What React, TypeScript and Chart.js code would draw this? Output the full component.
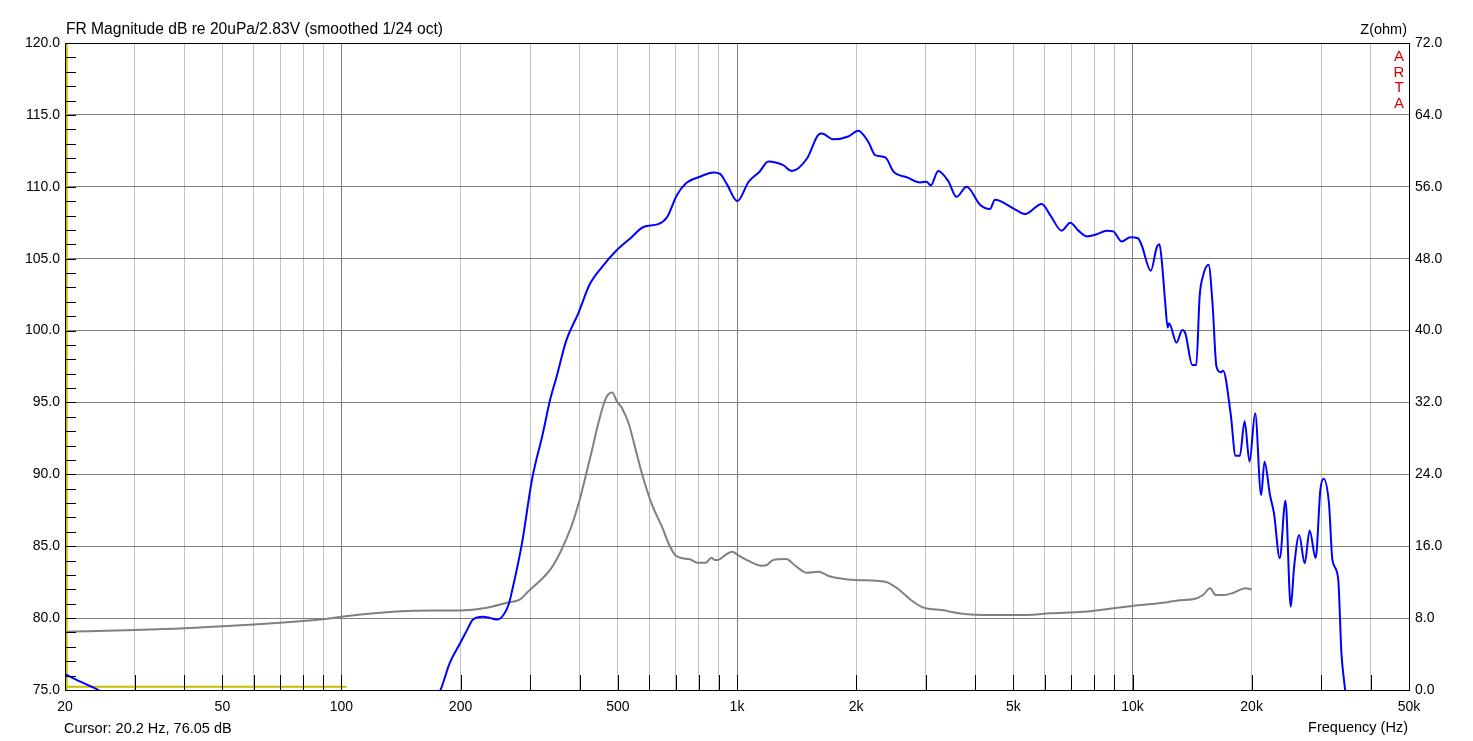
import { useEffect, useRef } from "react";
import Chart from "chart.js/auto";

const FONT = '"Liberation Sans", Arial, sans-serif';

// grid / tick positions on the frequency axis
const freqGrid = [
  20, 30, 40, 50, 60, 70, 80, 90, 100, 200, 300, 400, 500, 600, 700, 800, 900,
  1000, 2000, 3000, 4000, 5000, 6000, 7000, 8000, 9000, 10000, 20000, 30000,
  40000, 50000,
];
const freqLabelled = [20, 50, 100, 200, 500, 1000, 2000, 5000, 10000, 20000, 50000];
const freqLabelText = ["20", "50", "100", "200", "500", "1k", "2k", "5k", "10k", "20k", "50k"];
const decades = [100, 1000, 10000];

// FR magnitude, [Hz, dB]
const splCurve: [number, number | null][] = [
  [20, 76.1], [21.8, 75.6], [24.1, 75.05], [26, 74.5], [60, null],
  [170, 74.0], [178, 75.0], [188, 76.9], [200, 78.3], [208, 79.2], [215, 79.9],
  [228, 80.1], [238, 80.0], [248, 79.9], [258, 80.3], [265, 81.0], [270, 81.9],
  [286, 85.2], [303, 89.6], [323, 92.85], [337, 95.2], [350, 96.8], [370, 99.3],
  [397, 101.2], [424, 103.2], [455, 104.4], [497, 105.6], [537, 106.4],
  [580, 107.2], [632, 107.4], [666, 107.9], [704, 109.4], [740, 110.2],
  [806, 110.7], [872, 111.0], [906, 110.9], [942, 110.2], [1002, 109.0],
  [1070, 110.35], [1140, 111.05], [1200, 111.75], [1308, 111.5], [1376, 111.1],
  [1506, 112.0], [1610, 113.65], [1640, 113.7], [1752, 113.3], [1912, 113.5],
  [2026, 113.9], [2150, 113.1], [2236, 112.2], [2372, 112.05], [2488, 111.05],
  [2692, 110.65], [2906, 110.3], [3014, 110.35], [3090, 110.1], [3226, 111.1],
  [3420, 110.4], [3590, 109.3], [3806, 110.0], [4116, 108.75], [4360, 108.45],
  [4490, 109.1], [4994, 108.5], [5350, 108.1], [5894, 108.8], [6188, 108.05],
  [6620, 106.95], [6960, 107.5], [7300, 106.95], [7660, 106.55], [8120, 106.7],
  [8600, 106.95], [8940, 106.9], [9380, 106.2], [9880, 106.49], [10320, 106.42],
  [10540, 105.95], [11120, 104.16], [11520, 105.8], [11700, 106.0],
  [11860, 104.8], [12100, 101.88], [12270, 100.21], [12370, 100.5],
  [12920, 99.16], [13360, 100.04], [13600, 99.8], [14160, 97.6], [14490, 97.6],
  [14780, 102.37], [15060, 103.76], [15570, 104.58], [15930, 101.88],
  [16300, 97.5], [16720, 97.1], [16940, 97.2], [17700, 94.24], [18220, 91.3],
  [18680, 91.3], [19200, 93.7], [19760, 90.88], [20420, 94.24], [21140, 88.56],
  [21560, 90.88], [22260, 88.56], [22780, 87.3], [23560, 84.17], [24360, 88.17],
  [25120, 80.8], [25620, 83.58], [26380, 85.78], [27240, 83.81], [28040, 86.1],
  [29040, 84.17], [29840, 88.9], [30420, 89.7], [31380, 87.97], [32020, 84.03],
  [33100, 82.77], [33740, 77.55], [34400, 75.23], [36000, 70.0],
];

// impedance, [Hz, ohm]
const impedanceCurve: [number, number][] = [
  [20, 6.49], [30, 6.68], [40, 6.87], [50, 7.1], [60, 7.3], [70, 7.49],
  [80, 7.68], [90, 7.87], [100, 8.16], [125, 8.6], [152, 8.83], [200, 8.86],
  [233, 9.16], [262, 9.72], [283, 10.09], [297, 11.0], [319, 12.24],
  [339, 13.54], [358, 15.39], [381, 18.17], [400, 21.14], [416, 24.11],
  [429, 26.52], [446, 29.68], [466, 32.46], [484, 33.1], [496, 32.19],
  [512, 31.35], [532, 29.68], [556, 26.52], [578, 23.74], [610, 20.59],
  [646, 18.17], [674, 16.14], [702, 14.91], [760, 14.54], [794, 14.17],
  [834, 14.17], [862, 14.72], [878, 14.47], [894, 14.47], [934, 15.02],
  [974, 15.39], [1005, 15.02], [1066, 14.39], [1154, 13.83], [1190, 13.91],
  [1234, 14.47], [1332, 14.58], [1404, 13.83], [1498, 13.05], [1608, 13.16],
  [1704, 12.69], [1988, 12.24], [2368, 12.05], [2540, 11.32], [2752, 10.02],
  [2950, 9.2], [3370, 8.85], [3460, 8.71], [4200, 8.35], [5000, 8.35],
  [5400, 8.35], [6190, 8.53], [7520, 8.71], [8940, 9.09], [10000, 9.35],
  [12240, 9.76], [13140, 10.0], [14220, 10.09], [15100, 10.6], [15700, 11.32],
  [16240, 10.57], [17050, 10.57], [18020, 10.83], [19300, 11.32], [20000, 11.2],
];

// cursor markers (yellow)
const cursorFreq = 20.2;
const cursorLevel = 75.23;
const cursorLevelSpan = [20, 103];

const titleText = "FR Magnitude dB re 20uPa/2.83V (smoothed 1/24 oct)";
const cursorText = "Cursor: 20.2 Hz, 76.05 dB";

const toXY = (pts: [number, number | null][]) => pts.map(([x, y]) => ({ x, y }));

const artaDecor = {
  id: "artaDecor",
  afterDatasetsDraw(chart: any) {
    const { ctx, chartArea: a, scales } = chart;
    ctx.save();
    ctx.strokeStyle = "#000";
    ctx.lineWidth = 1;
    // inner minor ticks on the dB axis
    for (let v = 76; v < 120; v++) {
      const y = Math.round(scales.y.getPixelForValue(v)) + 0.5;
      ctx.beginPath();
      ctx.moveTo(a.left, y);
      ctx.lineTo(a.left + 11, y);
      ctx.stroke();
    }
    // inner ticks on the frequency axis
    freqGrid.slice(1, -1).forEach((f) => {
      const x = Math.round(scales.x.getPixelForValue(f)) + 0.5;
      ctx.beginPath();
      ctx.moveTo(x, a.bottom);
      ctx.lineTo(x, a.bottom - 15);
      ctx.stroke();
    });
    ctx.strokeRect(Math.round(a.left) + 0.5, Math.round(a.top) + 0.5, Math.round(a.right - a.left), Math.round(a.bottom - a.top));
    ctx.restore();
  },
  afterDraw(chart: any) {
    const { ctx, chartArea: a } = chart;
    ctx.save();
    ctx.fillStyle = "#000";
    ctx.textBaseline = "middle";
    ctx.textAlign = "left";
    ctx.font = `15.6px ${FONT}`;
    ctx.fillText(titleText, a.left + 1, a.top - 13);
    ctx.font = `14.5px ${FONT}`;
    ctx.fillText(cursorText, a.left - 1, a.bottom + 39);
    ctx.textAlign = "right";
    ctx.fillText("Z(ohm)", a.right - 2, a.top - 13);
    ctx.fillText("Frequency (Hz)", a.right - 1, a.bottom + 38);
    ctx.textAlign = "center";
    ctx.fillStyle = "#dd0000";
    ctx.font = `15px ${FONT}`;
    "ARTA".split("").forEach((ch, i) => ctx.fillText(ch, a.right - 10, a.top + 14 + i * 15.5));
    ctx.restore();
  },
};

function FrChart() {
  const canvasRef = useRef<HTMLCanvasElement>(null);
  const chartRef = useRef<Chart | null>(null);

  useEffect(() => {
    if (!canvasRef.current) return;
    chartRef.current?.destroy();
    Chart.defaults.font.family = FONT;

    chartRef.current = new Chart(canvasRef.current, {
      type: "line",
      data: {
        datasets: [
          {
            label: "FR",
            data: toXY(splCurve),
            borderColor: "#0000ff",
            borderWidth: 2,
            pointRadius: 0,
            spanGaps: false,
            cubicInterpolationMode: "monotone",
            yAxisID: "y",
          },
          {
            label: "Z",
            data: toXY(impedanceCurve),
            borderColor: "#808080",
            borderWidth: 2,
            pointRadius: 0,
            cubicInterpolationMode: "monotone",
            yAxisID: "y2",
          },
          {
            label: "cursor f",
            data: [{ x: cursorFreq, y: 75 }, { x: cursorFreq, y: 120 }],
            borderColor: "#c8c000",
            borderWidth: 2,
            pointRadius: 0,
            yAxisID: "y",
          },
          {
            label: "cursor level",
            data: cursorLevelSpan.map((x) => ({ x, y: cursorLevel })),
            borderColor: "#c8c000",
            borderWidth: 2,
            pointRadius: 0,
            yAxisID: "y",
          },
        ],
      },
      options: {
        responsive: true,
        maintainAspectRatio: false,
        animation: false,
        layout: { padding: { top: 43, left: 0, right: 0, bottom: 0 } },
        plugins: { legend: { display: false }, tooltip: { enabled: false }, title: { display: false } },
        scales: {
          x: {
            type: "logarithmic",
            min: 20,
            max: 50000,
            afterBuildTicks: (axis: any) => {
              axis.ticks = freqGrid.map((value) => ({ value }));
            },
            afterFit: (axis: any) => {
              axis.height = 51;
            },
            ticks: {
              autoSkip: false,
              maxRotation: 0,
              padding: 9,
              color: "#000",
              font: { size: 14 },
              callback: (value: any) => {
                const i = freqLabelled.indexOf(Number(value));
                return i >= 0 ? freqLabelText[i] : "";
              },
            },
            grid: {
              drawTicks: false,
              color: (c: any) => (decades.includes(c.tick?.value) ? "#808080" : "#c0c0c0"),
            },
            border: { color: "#000", width: 1 },
          },
          y: {
            type: "linear",
            position: "left",
            min: 75,
            max: 120,
            afterFit: (axis: any) => {
              axis.width = 65;
            },
            ticks: {
              stepSize: 5,
              padding: 5,
              color: "#000",
              font: { size: 14 },
              callback: (v: any) => Number(v).toFixed(1),
            },
            grid: { drawTicks: false, color: "#808080" },
            border: { color: "#000", width: 1 },
          },
          y2: {
            type: "linear",
            position: "right",
            min: 0,
            max: 72,
            afterFit: (axis: any) => {
              axis.width = 64;
            },
            ticks: {
              stepSize: 8,
              padding: 6,
              color: "#000",
              font: { size: 14 },
              callback: (v: any) => Number(v).toFixed(1),
            },
            grid: { drawTicks: false, drawOnChartArea: false },
            border: { color: "#000", width: 1 },
          },
        },
      },
      plugins: [artaDecor],
    });

    return () => {
      chartRef.current?.destroy();
      chartRef.current = null;
    };
  }, []);

  return (
    <div style={{ position: "fixed", left: 0, top: 0, width: 1473, height: 741, background: "#fff" }}>
      <canvas ref={canvasRef} />
    </div>
  );
}

export default function App() {
  return <FrChart />;
}
